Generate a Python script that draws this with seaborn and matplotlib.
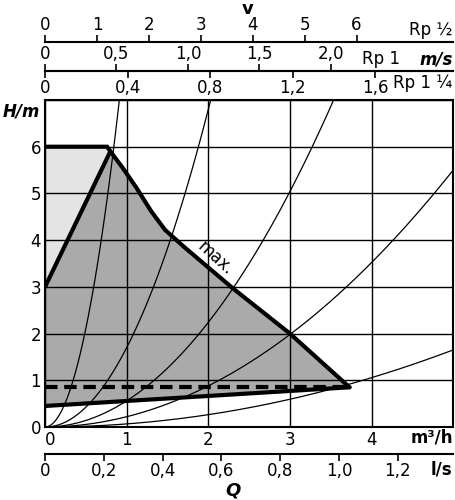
import numpy as np
import pandas as pd
import matplotlib.pyplot as plt
import seaborn as sns

# system curves H = c * Q^2
curve_coef = [8.45, 1.7, 0.56, 0.22, 0.066]

# max. curve of the pump (Q in m3/h, H in m)
max_q = [0.0, 0.76, 0.80, 0.95, 1.12, 1.30, 1.47, 1.7, 2.3, 3.0, 3.73]
max_h = [6.0, 6.0, 5.9, 5.55, 5.12, 4.62, 4.22, 3.86, 2.97, 2.0, 0.85]
# min. line and left limit
min_q = [0.0, 3.73]
min_h = [0.45, 0.85]
left_q = [0.0, 0.80]
left_h = [3.0, 5.9]
dash_h = 0.85

# velocity scales (m/s per m3/h)
v_half = [0, 1, 2, 3, 4, 5, 6]
v_one = [0, 0.5, 1.0, 1.5, 2.0]
v_onequarter = [0, 0.4, 0.8, 1.2, 1.6]
ls_ticks = [0, 0.2, 0.4, 0.6, 0.8, 1.0, 1.2]
k_half = 1 / 0.636
k_one = 1 / 1.75
k_onequarter = 1 / 2.53
k_ls = 1 / 3.6

sns.set_style("white")
plt.rcParams['font.family'] = ['DejaVu Sans']
plt.rcParams['text.color'] = 'black'
plt.rcParams['xtick.color'] = 'black'
plt.rcParams['ytick.color'] = 'black'
fs = 12

fig = plt.figure(figsize=(4.55, 5), dpi=100)
L, W = 0.099, 0.897
ax = fig.add_axes([L, 0.146, W, 0.654])
ax.set_xlim(0, 5)
ax.set_ylim(0, 7)

# shaded regions
ax.fill([0, 0, 0.76, 0.80], [3, 6, 6, 5.9], color="#e4e4e4", zorder=1)
poly_q = [0.0] + left_q + max_q[2:] + min_q[::-1]
poly_h = [0.45] + left_h + max_h[2:] + min_h[::-1]
ax.fill(poly_q, poly_h, color="#aaaaaa", zorder=1)

ax.grid(True, color="black", lw=1)
ax.set_axisbelow(False)
ax.set_xticks(range(0, 6))
ax.set_yticks(range(0, 8))

q = np.linspace(0, 5, 300)
rows = []
for c in curve_coef:
    for qq in q:
        rows.append({"Q": qq, "H": c * qq ** 2, "c": c})
df = pd.DataFrame(rows)
df = df[df.H <= 7.5]
sns.lineplot(data=df, x="Q", y="H", units="c", estimator=None, color="black",
             lw=0.9, ax=ax, zorder=3)

ax.plot(max_q, max_h, color="black", lw=3, zorder=4, solid_joinstyle="miter")
ax.plot(left_q, left_h, color="black", lw=3, zorder=4)
ax.plot(min_q, min_h, color="black", lw=3, zorder=4)
ax.plot([0, 3.73], [dash_h, dash_h], color="black", lw=3, ls=(0, (3, 1.6)), zorder=4)
ax.text(2.08, 3.62, "max.", rotation=-42, fontsize=fs, ha="center", va="center", zorder=5)

ax.set_xticklabels(["0", "1", "2", "3", "4", ""], fontsize=fs)
ax.set_yticklabels(["0", "1", "2", "3", "4", "5", "6", ""], fontsize=fs)
ax.tick_params(length=0, pad=3)
ax.xaxis.get_majorticklabels()[0].set_horizontalalignment("left")
ax.set_xlabel("")
ax.set_ylabel("")
for s in ax.spines.values():
    s.set_color("black")
    s.set_linewidth(1.5)


def scale_axis(y, k, ticks, labels, top, direction="out"):
    a = fig.add_axes([L, y, W, 0])
    a.set_xlim(0, 5 * k)
    a.set_yticks([])
    for n in ["left", "right", "top"]:
        a.spines[n].set_visible(False)
    a.spines["bottom"].set_linewidth(1.5)
    a.spines["bottom"].set_color("black")
    a.xaxis.set_ticks_position("top" if top else "bottom")
    a.set_xticks(ticks)
    a.set_xticklabels(labels, fontsize=fs)
    a.tick_params(direction=direction, length=5, width=1.2, pad=1)
    a.set_facecolor("none")
    return a


scale_axis(0.916, k_half, v_half, [str(v) for v in v_half], True)
scale_axis(0.858, k_one, v_one, ["0", "0,5", "1,0", "1,5", "2,0"], True)
scale_axis(0.858, k_onequarter, v_onequarter, ["0", "0,4", "0,8", "1,2", "1,6"], False)
scale_axis(0.092, k_ls, ls_ticks, ["0", "0,2", "0,4", "0,6", "0,8", "1,0", "1,2"], False)

fig.text(0.995, 0.922, "Rp ½", fontsize=fs, ha="right", va="bottom")
fig.text(0.88, 0.864, "Rp 1", fontsize=fs, ha="right", va="bottom")
fig.text(0.995, 0.864, "m/s", fontsize=fs, ha="right", va="bottom", weight="bold", style="italic")
fig.text(0.995, 0.852, "Rp 1 ¼", fontsize=fs, ha="right", va="top")
fig.text(0.545, 0.982, "v", fontsize=fs + 1, ha="center", va="center", weight="bold")
fig.text(0.005, 0.776, "H/m", fontsize=fs, ha="left", va="center", weight="bold", style="italic")
fig.text(0.995, 0.125, "m³/h", fontsize=fs, ha="right", va="center", weight="bold")
fig.text(0.995, 0.06, "l/s", fontsize=fs, ha="right", va="center", weight="bold")
fig.text(0.513, 0.02, "Q", fontsize=fs + 1, ha="center", va="center", weight="bold", style="italic")

fig.savefig("out.png", dpi=100)
